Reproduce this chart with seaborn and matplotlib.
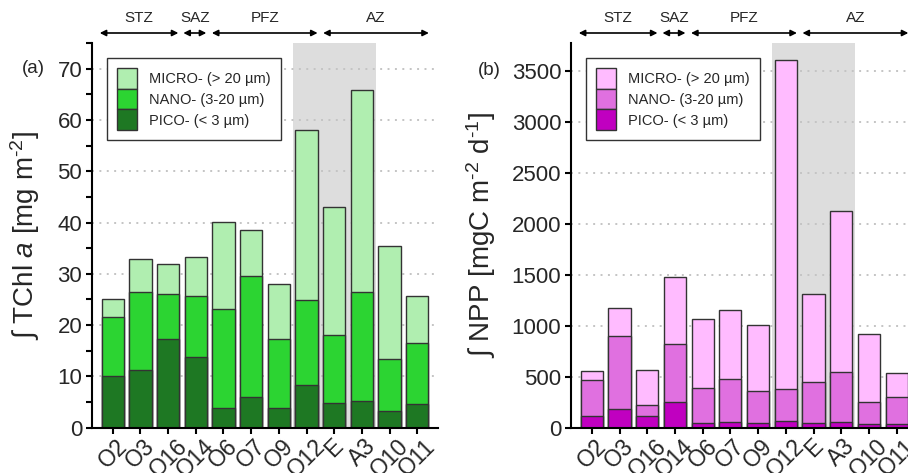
import numpy as np
import pandas as pd
import matplotlib
matplotlib.use("Agg")
import matplotlib.pyplot as plt
from matplotlib.patches import Patch
from matplotlib.ticker import MultipleLocator
import seaborn as sns

# ---------------- data ----------------
stations = ["O2", "O3", "O16", "O14", "O6", "O7", "O9", "O12", "E", "A3", "O10", "O11"]

chl_pico = [10.0, 11.3, 17.2, 13.8, 3.8, 5.9, 3.8, 8.3, 4.9, 5.3, 3.3, 4.7]
chl_nano = [11.5, 15.2, 8.9, 11.9, 19.4, 23.7, 13.4, 16.5, 13.2, 21.2, 10.0, 11.9]
chl_micro = [3.6, 6.4, 5.9, 7.6, 17.0, 9.0, 10.9, 33.3, 24.9, 39.3, 22.1, 9.0]

npp_pico = [110, 179, 117, 254, 42, 52, 49, 68, 42, 59, 39, 33]
npp_nano = [362, 719, 104, 569, 351, 429, 315, 309, 407, 491, 208, 269]
npp_micro = [87, 276, 342, 650, 670, 673, 641, 3228, 865, 1574, 673, 235]

size_labels = ["MICRO- (> 20 µm)", "NANO- (3-20 µm)", "PICO- (< 3 µm)"]
zone_names = ["STZ", "SAZ", "PFZ", "AZ"]
zone_spans = [(-0.47, 2.37), (2.55, 3.38), (3.58, 7.40), (7.60, 11.42)]
shade_span = (6.5, 9.5)

green = ["#b0eeb0", "#2cd432", "#1e7823"]
pink = ["#ffbbff", "#e070e0", "#c000c0"]

# ---------------- style ----------------
sns.set_style("ticks")
plt.rcParams["font.family"] = ["Liberation Sans", "DejaVu Sans"]
plt.rcParams["mathtext.fontset"] = "custom"
plt.rcParams["mathtext.rm"] = "Liberation Sans"
plt.rcParams["mathtext.it"] = "Liberation Sans:italic"
plt.rcParams["mathtext.bf"] = "Liberation Sans:bold"

EDGE = "#333333"

fig = plt.figure(figsize=(9.08, 4.73), dpi=100)
H = 473.0
W = 908.0
bottom = (H - 427.7) / H
height = 384.7 / H
ax1 = fig.add_axes([92 / W, bottom, 346 / W, height])
ax2 = fig.add_axes([571 / W, bottom, 346.5 / W, height])


def panel(ax, pico, nano, micro, colors, ymax, ystep, minor, ylabel, letter,
          letter_x, label_x, letter_y):
    df = pd.DataFrame({"station": stations, "pico": pico, "nano": nano, "micro": micro})
    df["pn"] = df["pico"] + df["nano"]
    df["total"] = df["pn"] + df["micro"]

    ax.axvspan(shade_span[0], shade_span[1], color="#dddddd", zorder=0, lw=0)

    for col, c in zip(["total", "pn", "pico"], colors):
        sns.barplot(data=df, x="station", y=col, order=stations, color=c,
                    saturation=1, width=0.8, edgecolor=EDGE, linewidth=1.0,
                    ax=ax, zorder=3)

    ax.set_xlim(-0.75, 11.75)
    ax.set_ylim(0, ymax)
    ax.yaxis.set_major_locator(MultipleLocator(ystep))
    if minor:
        ax.yaxis.set_minor_locator(MultipleLocator(minor))
    ax.yaxis.grid(True, which="major", linestyle=(0, (1, 2.8)), color="#c4c4c4",
                  linewidth=1.4, zorder=1)
    ax.xaxis.grid(False)
    ax.set_axisbelow(False)
    for gl in ax.get_ygridlines():
        gl.set_zorder(1)

    for s in ["top", "right"]:
        ax.spines[s].set_visible(False)
    for s in ["left", "bottom"]:
        ax.spines[s].set_linewidth(1.5)
        ax.spines[s].set_color("black")
        ax.spines[s].set_zorder(5)

    ax.tick_params(axis="both", which="both", direction="out", length=4,
                   width=1.5, color="black", labelsize=16, pad=3)
    ax.set_xticks(range(len(stations)))
    ax.set_xticklabels(stations, rotation=45, ha="center", fontsize=16.5)
    ax.tick_params(axis="x", pad=1)
    ax.set_xlabel("")

    ax.set_ylabel(ylabel, fontsize=20)
    ax.yaxis.set_label_coords(label_x, 0.5)

    ax.text(letter_x, letter_y, letter, transform=ax.get_yaxis_transform(),
            ha="center", va="center", fontsize=13.5)

    tr = ax.get_xaxis_transform()
    for name, (x0, x1) in zip(zone_names, zone_spans):
        ax.annotate("", xy=(x1, 1.026), xytext=(x0, 1.026), xycoords=tr,
                    textcoords=tr, annotation_clip=False,
                    arrowprops=dict(arrowstyle="<|-|>", color="black", lw=1.2,
                                    shrinkA=0, shrinkB=0, mutation_scale=9))
        ax.text((x0 + x1) / 2, 1.064, name, transform=tr, ha="center",
                va="center", fontsize=11)

    handles = [Patch(facecolor=c, edgecolor=EDGE, linewidth=1.0) for c in colors]
    leg = ax.legend(handles, size_labels, loc="upper left",
                    bbox_to_anchor=(0.043, 0.961), borderaxespad=0,
                    frameon=True, fancybox=False, edgecolor=EDGE, framealpha=1,
                    handlelength=1.37, handleheight=1.8, labelspacing=0,
                    handletextpad=0.8, borderpad=0.7, fontsize=10.5)
    leg.get_frame().set_linewidth(1.0)
    leg.set_zorder(6)


panel(ax1, chl_pico, chl_nano, chl_micro, green, 75, 10, 5,
      "∫ TChl $a$ [mg m$^{\\text{-}2}$]", "(a)", -0.17, -0.145, 70)
panel(ax2, npp_pico, npp_nano, npp_micro, pink, 3770, 500, None,
      "∫ NPP [mgC m$^{\\text{-}2}$ d$^{\\text{-}1}$]", "(b)", -0.237, -0.212, 3500)

fig.savefig("out.png", dpi=100)
